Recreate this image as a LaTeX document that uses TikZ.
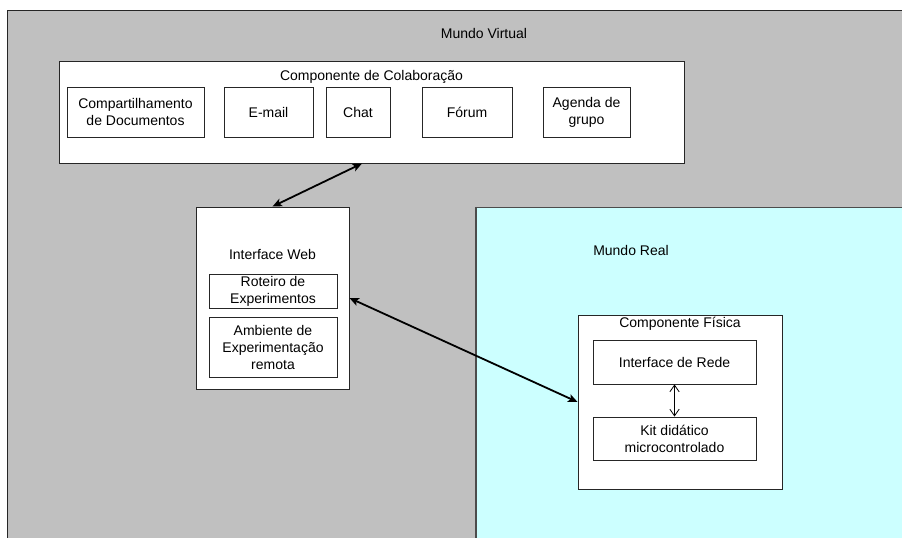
\documentclass[tikz,border=0pt]{standalone}
\usepackage{fontspec}
\setmainfont{Liberation Sans}
\usetikzlibrary{arrows.meta}

\definecolor{mundogray}{HTML}{C0C0C0}
\definecolor{mundocyan}{HTML}{CCFFFF}

\tikzset{
	sz/.style 2 args={minimum width=#1*0.75pt, minimum height=#2*0.75pt},
	box/.style={draw=black!85, line width=0.7pt, fill=white, inner sep=0pt, align=center},
	label/.style={inner sep=0pt, align=center},
	link/.style={line width=1.35pt, {Stealth[length=7pt,width=6pt,inset=1.5pt]}-{Stealth[length=7pt,width=6pt,inset=1.5pt]}},
}

\begin{document}
\begin{tikzpicture}[x=0.75pt, y=-0.75pt, font=\fontsize{10.5}{12.75}\selectfont]
		
		\useasboundingbox (0,0) rectangle (902,538);
		
		% Mundo virtual
		\fill[mundogray] (7,10) rectangle (902,538);
		\draw[black!85, line width=0.7pt] (7,538) |- (902,10);
		\node[label] (virtualtitle) at (484,33) {Mundo Virtual};
		
		% Mundo real
		\fill[mundocyan] (476,207) rectangle (902,538);
		\draw[black!70, line width=0.7pt] (476,207) -- (902,207);
		\draw[black!70, line width=1.6pt] (476,207) -- (476,538);
		\node[label] (realtitle) at (631,250) {Mundo Real};
		
		% Componente de colaboracao
		\node[box, sz={625}{102}] (collab) at (371.5,112) {};
		\node[label] (collabtitle) at (371.5,77) {Componente de Colaboração};
		\node[box, sz={137}{50}] (comp) at (135.5,112) {Compartilhamento\\de Documentos};
		\node[box, sz={89}{50}] (email) at (268.5,112) {E-mail};
		\node[box, sz={64}{50}] (chat) at (358,112) {Chat};
		\node[box, sz={90}{50}] (forum) at (467,112) {Fórum};
		\node[box, sz={87}{50}] (agenda) at (586.5,112) {Agenda de\\grupo};
		
		% Interface web
		\node[box, sz={153}{182}] (web) at (272.5,298) {};
		\node[label] (webtitle) at (272.5,254) {Interface Web};
		\node[box, sz={128}{34}] (roteiro) at (273,291) {Roteiro de\\Experimentos};
		\node[box, sz={128}{60}] (ambiente) at (273,347) {Ambiente de\\Experimentação\\remota};
		
		% Componente fisica
		\node[box, sz={204}{174}] (fisica) at (680,402) {};
		\node[label] (fisicatitle) at (680,324) {Componente Física};
		\node[box, sz={163}{44}] (rede) at (674.5,362) {Interface de Rede};
		\node[box, sz={163}{43}] (kit) at (674.5,438.5) {Kit didático\\microcontrolado};
		
		% Ligacoes
		\draw[link] ([xshift=3pt]chat |- collab.south) -- (web.north);
		\draw[link] (web.east) -- (fisica.west);
		\draw[line width=0.6pt, {Straight Barb[length=5pt,width=7pt]}-{Straight Barb[length=5pt,width=7pt]}] (rede.south) -- (kit.north);
		
	\end{tikzpicture}
\end{document}
